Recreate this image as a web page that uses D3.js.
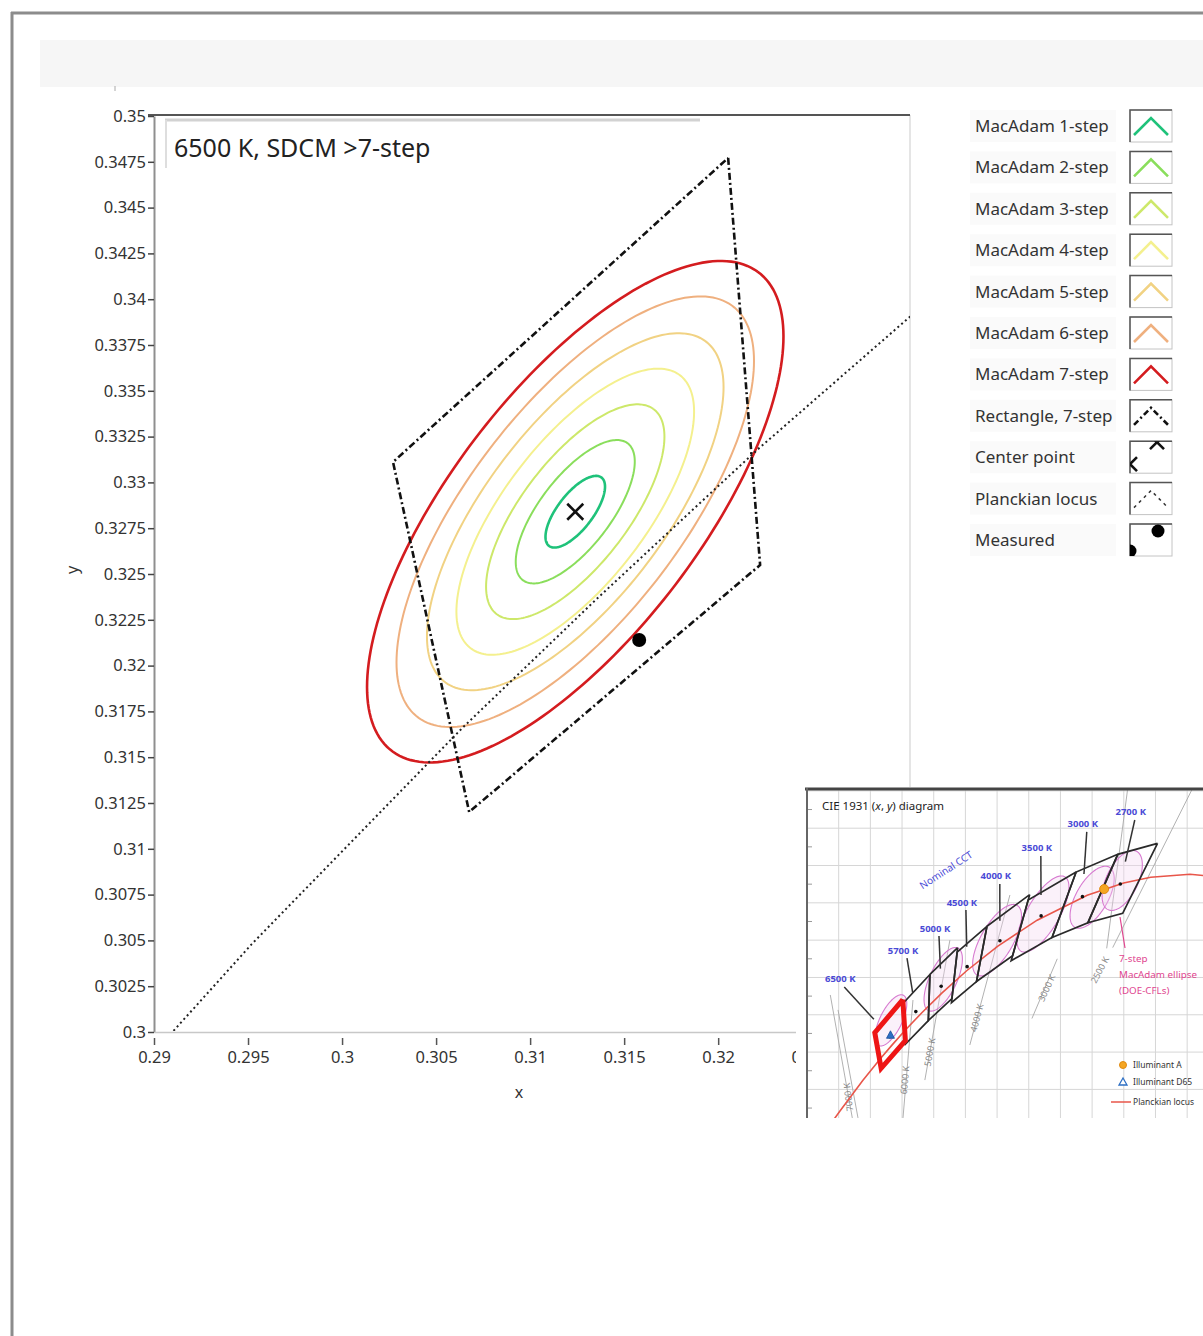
<!DOCTYPE html>
<html>
<head>
<meta charset="utf-8">
<script src="https://cdn.jsdelivr.net/npm/d3@7"></script>
<style>
  body { margin: 0; background: #fff; }
  svg text { font-family: "Noto Sans", sans-serif; }
</style>
</head>
<body>
<div id="chart"></div>
<script>
// ---- main chart data ----
var xTicks = [0.29, 0.295, 0.3, 0.305, 0.31, 0.315, 0.32, 0.325];
var yTicks = [0.3, 0.3025, 0.305, 0.3075, 0.31, 0.3125, 0.315, 0.3175, 0.32, 0.3225, 0.325,
              0.3275, 0.33, 0.3325, 0.335, 0.3375, 0.34, 0.3425, 0.345, 0.3475, 0.35];

var steps      = [1, 2, 3, 4, 5, 6, 7];
var stepColors = ["#1fc27a", "#8ade5c", "#cde86a", "#f4f08e", "#f1d283", "#efb07f", "#d41c1f"];
var stepWidths = [2.6, 2, 2, 2, 2, 2, 2.6];
var semiMajor  = [0.00233, 0.00466, 0.00698, 0.0093, 0.0116, 0.0140, 0.0163];   // x,y units
var semiMinor  = [0.00095, 0.0019, 0.00285, 0.0038, 0.00475, 0.0057, 0.00665];
var ellipseAngle = 53.5; // degrees, in x-y units

var centerPt = [0.3124, 0.3284];
var measuredPt = [0.3158, 0.3214];

var rectX = [0.32053, 0.32223, 0.30676, 0.30271];
var rectY = [0.34771, 0.32549, 0.31201, 0.33111];

// Planckian locus (CIE 1931 x,y)
var planckCCT = [12000, 10000, 8000, 7000, 6500, 6000, 5500, 5000, 4500, 4000, 3500, 3000, 2700, 2500, 2200, 2000];
var planckX = [0.2720, 0.2807, 0.2952, 0.3064, 0.3135, 0.3221, 0.3325, 0.3451, 0.3608, 0.3805, 0.4053, 0.4369, 0.4599, 0.4770, 0.5018, 0.5267];
var planckY = [0.2780, 0.2883, 0.3048, 0.3166, 0.3236, 0.3318, 0.3411, 0.3516, 0.3636, 0.3768, 0.3907, 0.4041, 0.4106, 0.4137, 0.4153, 0.4133];

var legendLabels = ["MacAdam 1-step", "MacAdam 2-step", "MacAdam 3-step", "MacAdam 4-step",
                    "MacAdam 5-step", "MacAdam 6-step", "MacAdam 7-step", "Rectangle, 7-step",
                    "Center point", "Planckian locus", "Measured"];
var legendKinds = ["line", "line", "line", "line", "line", "line", "line", "dashdot", "cross", "dotted", "dot"];

// ---- inset (CIE 1931 diagram) data ----
var quadCCT = ["6500 K", "5700 K", "5000 K", "4500 K", "4000 K", "3500 K", "3000 K", "2700 K"];
var quadX = [[0.3205, 0.3028, 0.3068, 0.3221], [0.3376, 0.3207, 0.3222, 0.3366],
             [0.3551, 0.3376, 0.3366, 0.3515], [0.3736, 0.3548, 0.3512, 0.3670],
             [0.4006, 0.3736, 0.3670, 0.3898], [0.4299, 0.3996, 0.3889, 0.4147],
             [0.4562, 0.4299, 0.4147, 0.4373], [0.4813, 0.4562, 0.4373, 0.4593]];
var quadY = [[0.3481, 0.3304, 0.3113, 0.3261], [0.3616, 0.3462, 0.3243, 0.3369],
             [0.3760, 0.3616, 0.3369, 0.3487], [0.3874, 0.3736, 0.3465, 0.3578],
             [0.4044, 0.3874, 0.3578, 0.3716], [0.4165, 0.4015, 0.3690, 0.3814],
             [0.4260, 0.4165, 0.3814, 0.3893], [0.4319, 0.4260, 0.3893, 0.3944]];
var quadCx = [0.3123, 0.3287, 0.3447, 0.3611, 0.3818, 0.4078, 0.4339, 0.4578];
var quadCy = [0.3282, 0.3417, 0.3553, 0.3658, 0.3797, 0.3930, 0.4033, 0.4101];
var cctLabelX = [0.2810, 0.3206, 0.3408, 0.3578, 0.3792, 0.4051, 0.4341, 0.4644];
var cctLabelY = [0.3592, 0.3747, 0.3865, 0.4004, 0.4144, 0.4294, 0.4423, 0.4487];

var cflX = [0.313, 0.346, 0.380, 0.409, 0.440, 0.459];
var cflY = [0.337, 0.359, 0.380, 0.394, 0.403, 0.412];
var cflA = [0.0156, 0.0192, 0.0226, 0.0243, 0.0195, 0.0181];
var cflB = [0.0067, 0.0083, 0.0097, 0.0097, 0.0095, 0.0096];
var cflAngle = [58.2, 59.4, 54.0, 53.7, 53.2, 57.2];

var isoLabels = ["", "7000 K", "6000 K", "5000 K", "4000 K", "3000 K", "", "2500 K"];
var isoX1 = [0.2922, 0.2886, 0.3206, 0.3344, 0.3628, 0.4020, 0.4492, 0.4530];
var isoY1 = [0.2847, 0.2847, 0.2847, 0.3050, 0.3238, 0.3380, 0.3756, 0.3760];
var isoX2 = [0.2796, 0.2747, 0.3269, 0.3502, 0.3881, 0.4180, 0.4625, 0.5035];
var isoY2 = [0.3426, 0.3506, 0.3479, 0.3800, 0.4042, 0.3700, 0.4615, 0.4615];
var isoLabelX = [0, 0.2861, 0.3218, 0.3376, 0.3673, 0.4114, 0, 0.4449];
var isoLabelY = [0, 0.2959, 0.3050, 0.3200, 0.3383, 0.3543, 0, 0.3640];
var isoLabelRot = [0, -97, -85, -80, -75, -65, 0, -62];

var illumA = [0.4476, 0.4074];
var illumD65 = [0.3127, 0.3290];
var cieGridX = [0.26, 0.28, 0.30, 0.32, 0.34, 0.36, 0.38, 0.40, 0.42, 0.44, 0.46, 0.48, 0.50];
var cieGridY = [0.28, 0.30, 0.32, 0.34, 0.36, 0.38, 0.40, 0.42, 0.44, 0.46];

// ---- helpers ----
function ellipsePoints(cx, cy, a, b, deg) {
  var th = deg * Math.PI / 180, pts = [];
  for (var i = 0; i <= 200; i++) {
    var t = i / 200 * 2 * Math.PI;
    pts.push([cx + a * Math.cos(th) * Math.cos(t) - b * Math.sin(th) * Math.sin(t),
              cy + a * Math.sin(th) * Math.cos(t) + b * Math.cos(th) * Math.sin(t)]);
  }
  return pts;
}
var fmt = function(d) { return String(+d.toFixed(4)); };

var svg = d3.select("#chart").append("svg")
  .attr("width", 1203).attr("height", 1336);

// ---- page frame ----
svg.append("rect").attr("x", 40).attr("y", 40).attr("width", 1163).attr("height", 47).attr("fill", "#f6f6f6");
svg.append("line").attr("x1", 11).attr("x2", 1203).attr("y1", 13).attr("y2", 13)
  .attr("stroke", "#8c8c8c").attr("stroke-width", 3);
svg.append("line").attr("x1", 12).attr("x2", 12).attr("y1", 12).attr("y2", 1336)
  .attr("stroke", "#8c8c8c").attr("stroke-width", 3);
svg.append("line").attr("x1", 115).attr("x2", 115).attr("y1", 86).attr("y2", 91)
  .attr("stroke", "#aaa").attr("stroke-width", 1);

// ---- scales ----
var x = d3.scaleLinear().domain([0.29, 0.3302]).range([154, 910]);
var y = d3.scaleLinear().domain([0.3, 0.35]).range([1032, 116]);

// plot frame
svg.append("line").attr("x1", 910).attr("x2", 910).attr("y1", 115).attr("y2", 792)
  .attr("stroke", "#dcdcdc").attr("stroke-width", 1.5);
svg.append("line").attr("x1", 148).attr("x2", 910).attr("y1", 115).attr("y2", 115)
  .attr("stroke", "#555").attr("stroke-width", 2);

// axes
var yAxis = svg.append("g")
  .attr("transform", "translate(154,0)")
  .call(d3.axisLeft(y).tickValues(yTicks).tickSize(6).tickSizeOuter(0).tickPadding(2).tickFormat(fmt));
yAxis.attr("font-family", "Noto Sans").attr("font-size", 16.5);
yAxis.select(".domain").attr("stroke", "#8f8f8f").attr("stroke-width", 2);
yAxis.selectAll(".tick line").attr("stroke", "#444").attr("stroke-width", 1.5);
yAxis.selectAll(".tick text").attr("fill", "#333");

var xAxis = svg.append("g")
  .attr("transform", "translate(0,1032)")
  .call(d3.axisBottom(x).tickValues(xTicks).tickSize(13).tickSizeOuter(0).tickPadding(6).tickFormat(fmt));
xAxis.attr("font-family", "Noto Sans").attr("font-size", 16.5);
xAxis.select(".domain").attr("stroke", "#c8c8c8").attr("stroke-width", 1.5);
xAxis.selectAll(".tick line").attr("y1", 6).attr("stroke", "#555").attr("stroke-width", 1.5);
xAxis.selectAll(".tick text").attr("fill", "#333");

svg.append("text").attr("transform", "translate(78,570) rotate(-90)")
  .attr("text-anchor", "middle").attr("font-size", 16).attr("fill", "#333").text("y");
svg.append("text").attr("x", 519).attr("y", 1098)
  .attr("text-anchor", "middle").attr("font-size", 16).attr("fill", "#333").text("x");

// title box inside plot
svg.append("line").attr("x1", 165).attr("x2", 700).attr("y1", 120).attr("y2", 120)
  .attr("stroke", "#d2d2d2").attr("stroke-width", 3);
svg.append("line").attr("x1", 166).attr("x2", 166).attr("y1", 120).attr("y2", 168)
  .attr("stroke", "#dedede").attr("stroke-width", 2);
svg.append("text").attr("x", 174).attr("y", 157).attr("font-size", 25).attr("fill", "#222")
  .text("6500 K, SDCM >7-step");

// ---- plot contents ----
svg.append("clipPath").attr("id", "plotclip").append("rect")
  .attr("x", 155).attr("y", 116).attr("width", 755).attr("height", 915);
var plot = svg.append("g").attr("clip-path", "url(#plotclip)");

var line = d3.line().x(function(d) { return x(d[0]); }).y(function(d) { return y(d[1]); });

steps.forEach(function(s, i) {
  plot.append("path")
    .datum(ellipsePoints(centerPt[0], centerPt[1], semiMajor[i], semiMinor[i], ellipseAngle))
    .attr("d", line)
    .attr("fill", "none")
    .attr("stroke", stepColors[i])
    .attr("stroke-width", stepWidths[i]);
});

var rectPts = rectX.map(function(v, i) { return [v, rectY[i]]; });
rectPts.push(rectPts[0]);
plot.append("path").datum(rectPts).attr("d", line)
  .attr("fill", "none").attr("stroke", "#111").attr("stroke-width", 2.6)
  .style("stroke-dasharray", "7,3,2,3");

var planckPts = planckX.map(function(v, i) { return [v, planckY[i]]; });
plot.append("path").datum(planckPts).attr("d", line)
  .attr("fill", "none").attr("stroke", "#222").attr("stroke-width", 2)
  .style("stroke-dasharray", "2,3");

plot.append("path")
  .attr("transform", "translate(" + x(centerPt[0]) + "," + y(centerPt[1]) + ")")
  .attr("d", "M-8,-8L8,8M-8,8L8,-8")
  .attr("stroke", "#111").attr("stroke-width", 2.6);

plot.append("circle")
  .attr("cx", x(measuredPt[0])).attr("cy", y(measuredPt[1])).attr("r", 7)
  .attr("fill", "#000");

// ---- legend ----
var legend = svg.append("g");
legendLabels.forEach(function(lbl, i) {
  var cy = 126 + i * 41.4;
  legend.append("rect").attr("x", 970).attr("y", cy - 16).attr("width", 146).attr("height", 32)
    .attr("fill", "#fafafa");
  legend.append("text").attr("x", 975).attr("y", cy + 6).attr("font-size", 17).attr("fill", "#333")
    .text(lbl);

  legend.append("clipPath").attr("id", "sw" + i).append("rect")
    .attr("x", 1130).attr("y", cy - 16).attr("width", 42).attr("height", 32);
  legend.append("rect").attr("x", 1130).attr("y", cy - 16).attr("width", 42).attr("height", 32)
    .attr("fill", "#fff").attr("stroke", "#c4c4c4").attr("stroke-width", 1);
  legend.append("path").attr("d", "M1130," + (cy + 16) + "V" + (cy - 16) + "H1172")
    .attr("fill", "none").attr("stroke", "#555").attr("stroke-width", 1.5);

  var sw = legend.append("g").attr("clip-path", "url(#sw" + i + ")");
  var caret = "M1134," + (cy + 9) + "L1151," + (cy - 8) + "L1168," + (cy + 9);
  var kind = legendKinds[i];
  if (kind === "line") {
    sw.append("path").attr("d", caret).attr("fill", "none")
      .attr("stroke", stepColors[i]).attr("stroke-width", 2.6);
  } else if (kind === "dashdot") {
    sw.append("path").attr("d", caret).attr("fill", "none")
      .attr("stroke", "#111").attr("stroke-width", 2.6).style("stroke-dasharray", "6,3,2,3");
  } else if (kind === "dotted") {
    sw.append("path").attr("d", caret).attr("fill", "none")
      .attr("stroke", "#333").attr("stroke-width", 1.5).style("stroke-dasharray", "3,4");
  } else if (kind === "cross") {
    sw.append("path").attr("transform", "translate(1130," + (cy + 7) + ")")
      .attr("d", "M-7,-7L7,7M-7,7L7,-7").attr("stroke", "#111").attr("stroke-width", 2.6);
    sw.append("path").attr("transform", "translate(1157," + (cy - 15) + ")")
      .attr("d", "M-7,-7L7,7M-7,7L7,-7").attr("stroke", "#111").attr("stroke-width", 2.6);
  } else if (kind === "dot") {
    sw.append("circle").attr("cx", 1158).attr("cy", cy - 9).attr("r", 6.5).attr("fill", "#000");
    sw.append("circle").attr("cx", 1130).attr("cy", cy + 11).attr("r", 6.5).attr("fill", "#000");
  }
});

// ---- inset CIE 1931 diagram ----
var cx = d3.scaleLinear().domain([0.26, 0.51]).range([807, 1203]);
var cy = d3.scaleLinear().domain([0.30, 0.44]).range([1089.4, 828.2]);
var cline = d3.line().x(function(d) { return cx(d[0]); }).y(function(d) { return cy(d[1]); });

svg.append("rect").attr("x", 796).attr("y", 787).attr("width", 407).attr("height", 332).attr("fill", "#fff");
svg.append("clipPath").attr("id", "insetclip").append("rect")
  .attr("x", 807).attr("y", 789).attr("width", 396).attr("height", 329);
var inset = svg.append("g").attr("clip-path", "url(#insetclip)");

inset.selectAll(".gx").data(cieGridX).enter().append("line")
  .attr("x1", function(d) { return cx(d); }).attr("x2", function(d) { return cx(d); })
  .attr("y1", 787).attr("y2", 1120).attr("stroke", "#d6d6d6").attr("stroke-width", 1);
inset.selectAll(".gy").data(cieGridY).enter().append("line")
  .attr("y1", function(d) { return cy(d); }).attr("y2", function(d) { return cy(d); })
  .attr("x1", 805).attr("x2", 1203).attr("stroke", "#d6d6d6").attr("stroke-width", 1);
inset.selectAll(".my").data(cieGridY).enter().append("line")
  .attr("y1", function(d) { return cy(d + 0.01); }).attr("y2", function(d) { return cy(d + 0.01); })
  .attr("x1", 807).attr("x2", 812).attr("stroke", "#999").attr("stroke-width", 1);

// iso-CCT lines
isoX1.forEach(function(v, i) {
  inset.append("line").attr("x1", cx(v)).attr("y1", cy(isoY1[i]))
    .attr("x2", cx(isoX2[i])).attr("y2", cy(isoY2[i]))
    .attr("stroke", "#a8a8a8").attr("stroke-width", 0.9);
  if (isoLabels[i]) {
    inset.append("text")
      .attr("transform", "translate(" + cx(isoLabelX[i]) + "," + cy(isoLabelY[i]) + ") rotate(" + isoLabelRot[i] + ")")
      .attr("text-anchor", "middle").attr("dy", "0.35em")
      .attr("font-size", 9).attr("fill", "#888").text(isoLabels[i]);
  }
});

// DOE CFL 7-step ellipses
cflX.forEach(function(v, i) {
  inset.append("path").datum(ellipsePoints(v, cflY[i], cflA[i], cflB[i], cflAngle[i]))
    .attr("d", cline).attr("fill", "#f3d8f0").attr("fill-opacity", 0.35)
    .attr("stroke", "#d77ad0").attr("stroke-width", 1.1);
});

// Planckian locus
inset.append("path").datum(planckPts).attr("d", cline)
  .attr("fill", "none").attr("stroke", "#e8564a").attr("stroke-width", 1.6);

// ANSI quadrangles
quadX.forEach(function(qx, i) {
  var pts = qx.map(function(v, j) { return [v, quadY[i][j]]; });
  pts.push(pts[0]);
  inset.append("path").datum(pts).attr("d", cline)
    .attr("fill", "none").attr("stroke", "#2a2a2a").attr("stroke-width", 1.7);
  inset.append("circle").attr("cx", cx(quadCx[i])).attr("cy", cy(quadCy[i])).attr("r", 1.8).attr("fill", "#111");
  var lx = cx(cctLabelX[i]) + 4, ly = cy(cctLabelY[i]) + 8;
  var tx = cx(quadCx[i]), ty = cy(quadCy[i]);
  inset.append("line").attr("x1", lx).attr("y1", ly)
    .attr("x2", lx + (tx - lx) * 0.65).attr("y2", ly + (ty - ly) * 0.65)
    .attr("stroke", "#333").attr("stroke-width", 1.5);
  inset.append("text").attr("x", cx(cctLabelX[i])).attr("y", cy(cctLabelY[i]) + 3.5)
    .attr("text-anchor", "middle").attr("font-size", 9.5).attr("font-weight", "bold")
    .attr("fill", "#4a4ad6").text(quadCCT[i]);
});

// red 6500 K quadrangle
var redPts = quadX[0].map(function(v, j) { return [v, quadY[0][j]]; });
redPts.push(redPts[0]);
inset.append("path").datum(redPts).attr("d", cline)
  .attr("fill", "none").attr("stroke", "#ee1515").attr("stroke-width", 5)
  .attr("stroke-linejoin", "miter");

// illuminants
inset.append("circle").attr("cx", cx(illumA[0])).attr("cy", cy(illumA[1])).attr("r", 4.5)
  .attr("fill", "#f5a623").attr("stroke", "#e08a10").attr("stroke-width", 1);
inset.append("path")
  .attr("transform", "translate(" + cx(illumD65[0]) + "," + cy(illumD65[1]) + ")")
  .attr("d", "M0,-4.5L4,3L-4,3Z").attr("fill", "#2d6fc4").attr("stroke", "#1a4f9a").attr("stroke-width", 0.8);

// labels
inset.append("text").attr("x", 822).attr("y", 810).attr("font-size", 11.5).attr("fill", "#222")
  .html('CIE 1931 (<tspan font-style="italic">x</tspan>, <tspan font-style="italic">y</tspan>) diagram');
inset.append("text").attr("transform", "translate(948,873) rotate(-33)")
  .attr("text-anchor", "middle").attr("font-size", 10).attr("fill", "#4a4ad6").text("Nominal CCT");

inset.append("line").attr("x1", 1125).attr("y1", 948).attr("x2", 1120).attr("y2", 917)
  .attr("stroke", "#e0458f").attr("stroke-width", 1.2);
["7-step", "MacAdam ellipse", "(DOE-CFLs)"].forEach(function(t, i) {
  inset.append("text").attr("x", 1119).attr("y", 962 + i * 16).attr("font-size", 9.8)
    .attr("fill", "#e0458f").text(t);
});

inset.append("circle").attr("cx", 1123).attr("cy", 1065).attr("r", 3.5)
  .attr("fill", "#f5a623").attr("stroke", "#e08a10");
inset.append("path").attr("transform", "translate(1123,1082)")
  .attr("d", "M0,-4L4,3L-4,3Z").attr("fill", "#fff").attr("stroke", "#2d6fc4").attr("stroke-width", 1.3);
inset.append("line").attr("x1", 1111).attr("x2", 1131).attr("y1", 1102).attr("y2", 1102)
  .attr("stroke", "#e8564a").attr("stroke-width", 1.5);
[["Illuminant A", 1068], ["Illuminant D65", 1085], ["Planckian locus", 1105]].forEach(function(d) {
  inset.append("text").attr("x", 1133).attr("y", d[1]).attr("font-size", 8.5)
    .attr("fill", "#333").text(d[0]);
});

// inset frame
svg.append("line").attr("x1", 805).attr("x2", 1203).attr("y1", 789).attr("y2", 789)
  .attr("stroke", "#444").attr("stroke-width", 3);
svg.append("line").attr("x1", 807).attr("x2", 807).attr("y1", 788).attr("y2", 1118)
  .attr("stroke", "#666").attr("stroke-width", 2);
</script>
</body>
</html>
